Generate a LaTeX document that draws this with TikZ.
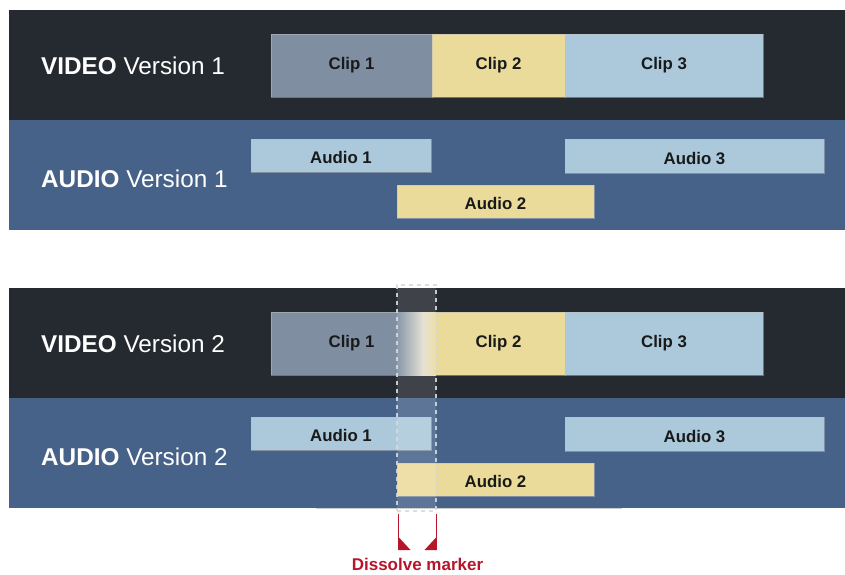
\documentclass[tikz,border=0pt]{standalone}
\usepackage{fontspec}
\setmainfont{Liberation Sans}
\usetikzlibrary{positioning}

\definecolor{videoBand}{HTML}{252930}
\definecolor{audioBand}{HTML}{476288}
\definecolor{clipOne}{HTML}{7F8FA1}
\definecolor{clipTwo}{HTML}{EBDB9B}
\definecolor{clipThree}{HTML}{ABC9DB}
\definecolor{dissolveLight}{HTML}{E2DCCF}
\definecolor{dissolveEdge}{HTML}{D6D9DE}
\definecolor{markerRed}{HTML}{B5162B}

\pgfdeclarehorizontalshading{dissolveShade}{100bp}{color(0bp)=(clipOne); color(27bp)=(clipOne); color(58bp)=(dissolveLight); color(75bp)=(clipTwo); color(100bp)=(clipTwo)}

\begin{document}
\begin{tikzpicture}[x=1pt, y=-1pt,
		lbl/.style={anchor=west, inner sep=0pt, text=white, font=\fontsize{24.3}{28}\selectfont},
		track/.style={anchor=north west, inner sep=0pt, outer sep=0pt, draw=black!25, draw opacity=0.5, line width=0.6pt, text=black!90, font=\fontsize{16.8}{19}\selectfont\bfseries},
		audiotrack/.style={track, text height=16pt, text depth=0pt},
		dissolvebox/.style={anchor=north west, inner sep=0pt, outer sep=0pt, fill=white, fill opacity=0.12, draw=dissolveEdge, draw opacity=0.9, line width=1.8pt, dash pattern=on 4pt off 4pt},
		marker/.style={markerRed, line width=1.5pt},
		markertext/.style={inner sep=0pt, text=markerRed, font=\fontsize{17}{19}\selectfont\bfseries}]
	\useasboundingbox (0,0) rectangle (845,574);
	
	% two versions of the same timeline
	\foreach \v/\dy in {1/0, 2/278} {
		\begin{scope}[shift={(0,\dy)}]
			\fill[videoBand] (9,10) rectangle (845,120);
			\fill[audioBand] (9,120) rectangle (845,230);
			\node[lbl] (vlab\v) at (41,66) {\textbf{VIDEO} Version \v};
			\node[lbl] (alab\v) at (41,179) {\textbf{AUDIO} Version \v};
			
			% video clips
			\node[track, fill=clipOne, minimum width=161pt, minimum height=63pt] (c1v\v) at (271,34) {Clip 1};
			\node[track, fill=clipTwo, minimum width=133pt, minimum height=63pt] (c2v\v) at (432,34) {Clip 2};
			\node[track, fill=clipThree, minimum width=198pt, minimum height=63pt] (c3v\v) at (565,34) {Clip 3};
			
			% audio clips
			\node[audiotrack, fill=clipThree, minimum width=180pt, minimum height=33pt] (a1v\v) at (251,139) {Audio 1};
			\node[audiotrack, fill=clipThree, minimum width=259pt, minimum height=34pt] (a3v\v) at (565,139) {Audio 3};
			\node[audiotrack, fill=clipTwo, minimum width=197pt, minimum height=33pt] (a2v\v) at (397,185) {Audio 2};
		\end{scope}
	}
	
	% faint edge under the second timeline
	\draw[black!20, line width=0.6pt] (316,508.5) -- (622,508.5);
	
	% cross fade from clip 1 into clip 2
	\shade[shading=dissolveShade] (397,312) rectangle (436,375);
	
	% dissolve region across video and audio
	\node[dissolvebox, minimum width=39pt, minimum height=226pt] (dis) at (397,285) {};
	
	% marker brackets
	\coordinate (mkL) at (398.5,550);
	\coordinate (mkR) at (436.5,550);
	\coordinate (mkMid) at (417.5,550);
	\draw[marker] (398.5,514) -- (mkL);
	\draw[marker] (436.5,514) -- (mkR);
	\fill[markerRed] (mkL) -- ++(0,-13) -- ++(12,13) -- cycle;
	\fill[markerRed] (mkR) -- ++(0,-13) -- ++(-12,13) -- cycle;
	\node[markertext, below=8pt of mkMid] (mklabel) {Dissolve marker};
\end{tikzpicture}
\end{document}
